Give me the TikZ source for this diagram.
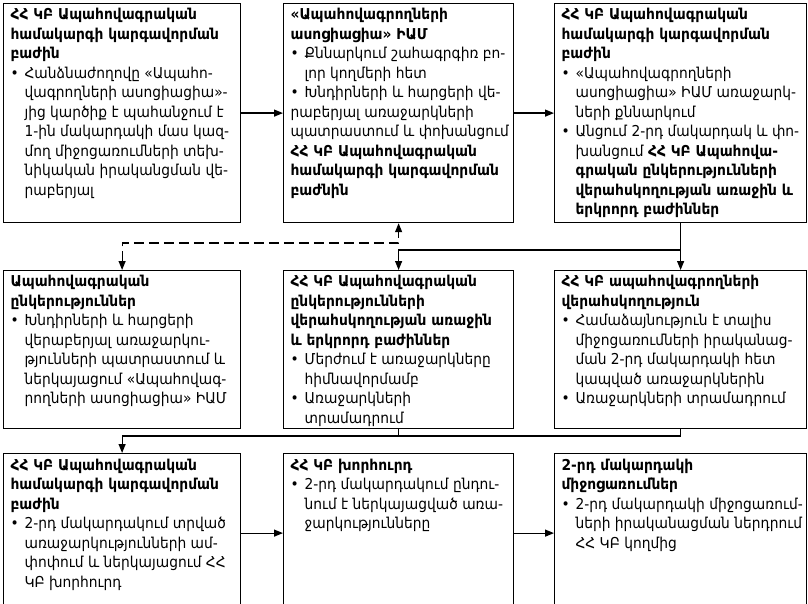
\documentclass[tikz,border=0pt]{standalone}
\usepackage{fontspec}
\setmainfont{DejaVu Sans}[FakeStretch=0.92]
\usetikzlibrary{arrows.meta}

\newlength\bw
\newcommand\bx[3]{\setlength\bw{#1}\addtolength\bw{20pt}%
  \makebox[#1][l]{\parbox[t][#2][t]{\bw}{\raggedright\leftskip=3pt
    \fontsize{15pt}{19.5pt}\selectfont #3}}}
\newcommand\itm{\makebox[14pt][l]{•}}
\newcommand\ind{\hspace*{14pt}}

\begin{document}
\begin{tikzpicture}[x=1pt,y=-1pt,
    blk/.style={draw,line width=1.2pt,anchor=north west,inner xsep=4pt,inner ysep=5pt},
    arr/.style={line width=1.2pt,-{Triangle[length=9pt,width=7pt]}},
    dsh/.style={line width=1.2pt,dash pattern=on 10pt off 5pt,{Triangle[length=9pt,width=7pt]}-{Triangle[length=9pt,width=7pt]}}]
      \useasboundingbox (0,0) rectangle (808,604);
      \clip (0,0) rectangle (808,604);
      % first row
      \node[blk] (reg1) at (3,3) {\bx{229pt}{209pt}{%
        \textbf{ՀՀ ԿԲ Ապահովագրական}\\
        \textbf{համակարգի կարգավորման}\\
        \textbf{բաժին}\\
        \itm Հանձնաժողովը «Ապահո-\\
        \ind վագրողների ասոցիացիա»-\\
        \ind յից կարծիք է պահանջում է\\
        \ind 1-ին մակարդակի մաս կազ-\\
        \ind մող միջոցառումների տեխ-\\
        \ind նիկական իրականցման վե-\\
        \ind րաբերյալ}};
      \node[blk] (assoc) at (283,3) {\bx{222pt}{209pt}{%
        \textbf{«Ապահովագրողների}\\
        \textbf{ասոցիացիա» ԻԱՄ}\\
        \itm Քննարկում շահագրգիռ բո-\\
        \ind լոր կողմերի հետ\\
        \itm Խնդիրների և հարցերի վե-\\
        րաբերյալ առաջարկների\\
        պատրաստում և փոխանցում\\
        \textbf{ՀՀ ԿԲ Ապահովագրական}\\
        \textbf{համակարգի կարգավորման}\\
        \textbf{բաժնին}}};
      \node[blk] (reg2) at (554,3) {\bx{244pt}{209pt}{%
        \textbf{ՀՀ ԿԲ Ապահովագրական}\\
        \textbf{համակարգի կարգավորման}\\
        \textbf{բաժին}\\
        \itm «Ապահովագրողների\\
        \ind ասոցիացիա» ԻԱՄ առաջարկ-\\
        \ind ների քննարկում\\
        \itm Անցում 2-րդ մակարդակ և փո-\\
        \ind խանցում \textbf{ՀՀ ԿԲ Ապահովա-}\\
        \ind \textbf{գրական ընկերությունների}\\
        \ind \textbf{վերահսկողության առաջին և}\\
        \ind \textbf{երկրորդ բաժիններ}}};
      % second row
      \node[blk] (cos) at (3,270) {\bx{229pt}{148pt}{%
        \textbf{Ապահովագրական}\\
        \textbf{ընկերություններ}\\
        \itm Խնդիրների և հարցերի\\
        \ind վերաբերյալ առաջարկու-\\
        \ind թյունների պատրաստում և\\
        \ind ներկայացում «Ապահովագ-\\
        \ind րողների ասոցիացիա» ԻԱՄ}};
      \node[blk] (supa) at (283,270) {\bx{222pt}{148pt}{%
        \textbf{ՀՀ ԿԲ Ապահովագրական}\\
        \textbf{ընկերությունների}\\
        \textbf{վերահսկողության առաջին}\\
        \textbf{և երկրորդ բաժիններ}\\
        \itm Մերժում է առաջարկները\\
        \ind հիմնավորմամբ\\
        \itm Առաջարկների\\
        \ind տրամադրում}};
      \node[blk] (sup) at (554,270) {\bx{244pt}{148pt}{%
        \textbf{ՀՀ ԿԲ ապահովագրողների}\\
        \textbf{վերահսկողություն}\\
        \itm Համաձայնություն է տալիս\\
        \ind միջոցառումների իրականաց-\\
        \ind ման 2-րդ մակարդակի հետ\\
        \ind կապված առաջարկներին\\
        \itm Առաջարկների տրամադրում}};
      % third row
      \node[blk] (reg3) at (3,453) {\bx{229pt}{149pt}{%
        \textbf{ՀՀ ԿԲ Ապահովագրական}\\
        \textbf{համակարգի կարգավորման}\\
        \textbf{բաժին}\\
        \itm 2-րդ մակարդակում տրված\\
        \ind առաջարկությունների ամ-\\
        \ind փոփում և ներկայացում ՀՀ\\
        \ind ԿԲ խորհուրդ}};
      \node[blk] (board) at (283,453) {\bx{222pt}{149pt}{%
        \textbf{ՀՀ ԿԲ խորհուրդ}\\
        \itm 2-րդ մակարդակում ընդու-\\
        \ind նում է ներկայացված առա-\\
        \ind ջարկությունները}};
      \node[blk] (meas) at (554,453) {\bx{244pt}{149pt}{%
        \textbf{2-րդ մակարդակի}\\
        \textbf{միջոցառումներ}\\
        \itm 2-րդ մակարդակի միջոցառում-\\
        \ind ների իրականացման ներդրում\\
        \ind ՀՀ ԿԲ կողմից}};
      % connectors
      \draw[arr] (reg1.east) -- (reg1.east -| assoc.west);
      \draw[arr] (assoc.east) -- (assoc.east -| reg2.west);
      \draw[arr] (reg2.south) -- (sup.north);
      \coordinate (j1) at (reg2.south |- 0,250);
      \draw[arr] (j1) -| (supa.north);
      \draw[dsh] (cos.north) -- ++(0,-27) -| (assoc.south);
      \coordinate (j2) at (supa.south |- 0,436);
      \draw (supa.south) -- (j2);
      \draw[arr] (sup.south) |- (reg3.north |- j2) -- (reg3.north);
      \draw[arr] (reg3.east) -- (reg3.east -| board.west);
      \draw[arr] (board.east) -- (board.east -| meas.west);
    \end{tikzpicture}
\end{document}
